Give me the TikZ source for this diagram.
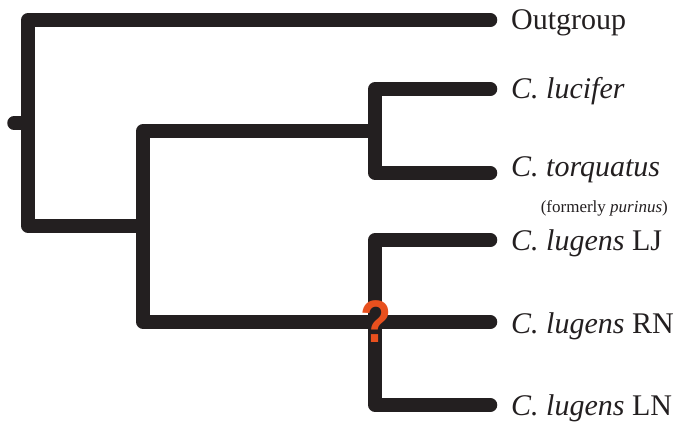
\documentclass[tikz,border=0pt]{standalone}
\usepackage{fontspec}
\setmainfont{Liberation Serif}
\newfontfamily\qfont{Liberation Sans}
\definecolor{branchblack}{RGB}{35,31,32}
\definecolor{qorange}{RGB}{232,80,30}
\begin{document}
\begin{tikzpicture}[x=1pt,y=-1pt,
  branch/.style={draw=branchblack,line width=13.5pt,line cap=round,line join=round},
  taxon/.style={anchor=base west,inner sep=0pt,font=\fontsize{30}{30}\selectfont,text=branchblack},
  note/.style={anchor=base east,inner sep=0pt,font=\fontsize{17}{17}\selectfont,text=branchblack},
  qmark/.style={anchor=base,inner sep=0pt,text=qorange,font=\qfont\bfseries\fontsize{60}{60}\selectfont,xscale=0.85}]
\useasboundingbox (0,0) rectangle (681,427);
% internal coordinates
\coordinate (stub) at (14,123);
\coordinate (rStub) at (28,123);
\coordinate (rTop) at (28,20);
\coordinate (rBot) at (28,226);
\coordinate (aMid) at (143,226);
\coordinate (aTop) at (143,131);
\coordinate (aBot) at (143,322);
\coordinate (bMid) at (375,131);
\coordinate (bTop) at (375,89);
\coordinate (bBot) at (375,173);
\coordinate (cMid) at (375,322);
\coordinate (cTop) at (375,240);
\coordinate (cBot) at (375,405);
% tip ends
\coordinate (eOut) at (490.5,20);
\coordinate (eLuc) at (490.5,89);
\coordinate (eTor) at (490.5,173);
\coordinate (eLJ) at (490.5,240);
\coordinate (eRN) at (490.5,322);
\coordinate (eLN) at (490.5,405);
% branches
\draw[branch] (stub) -- (rStub);
\draw[branch] (eOut) -- (rTop) -- (rBot) -- (aMid);
\draw[branch] (bMid) -- (aTop) -- (aBot) -- (cMid);
\draw[branch] (eLuc) -- (bTop) -- (bBot) -- (eTor);
\draw[branch] (eLJ) -- (cTop) -- (cBot) -- (eLN);
\draw[branch] (cMid) -- (eRN);
% labels
\node[taxon] (tOut) at (511,29.5) {Outgroup};
\node[taxon] (tLuc) at (511,98.5) {\textit{C. lucifer}};
\node[taxon] (tTor) at (511,177) {\textit{C. torquatus}};
\node[note] (tForm) at (668,213) {(formerly \textit{purinus})};
\node[taxon] (tLJ) at (511,251) {\textit{C. lugens} LJ};
\node[taxon] (tRN) at (511,334) {\textit{C. lugens} RN};
\node[taxon] (tLN) at (511,416) {\textit{C. lugens} LN};
\node[qmark] (q) at (376,343) {?};
\end{tikzpicture}
\end{document}
